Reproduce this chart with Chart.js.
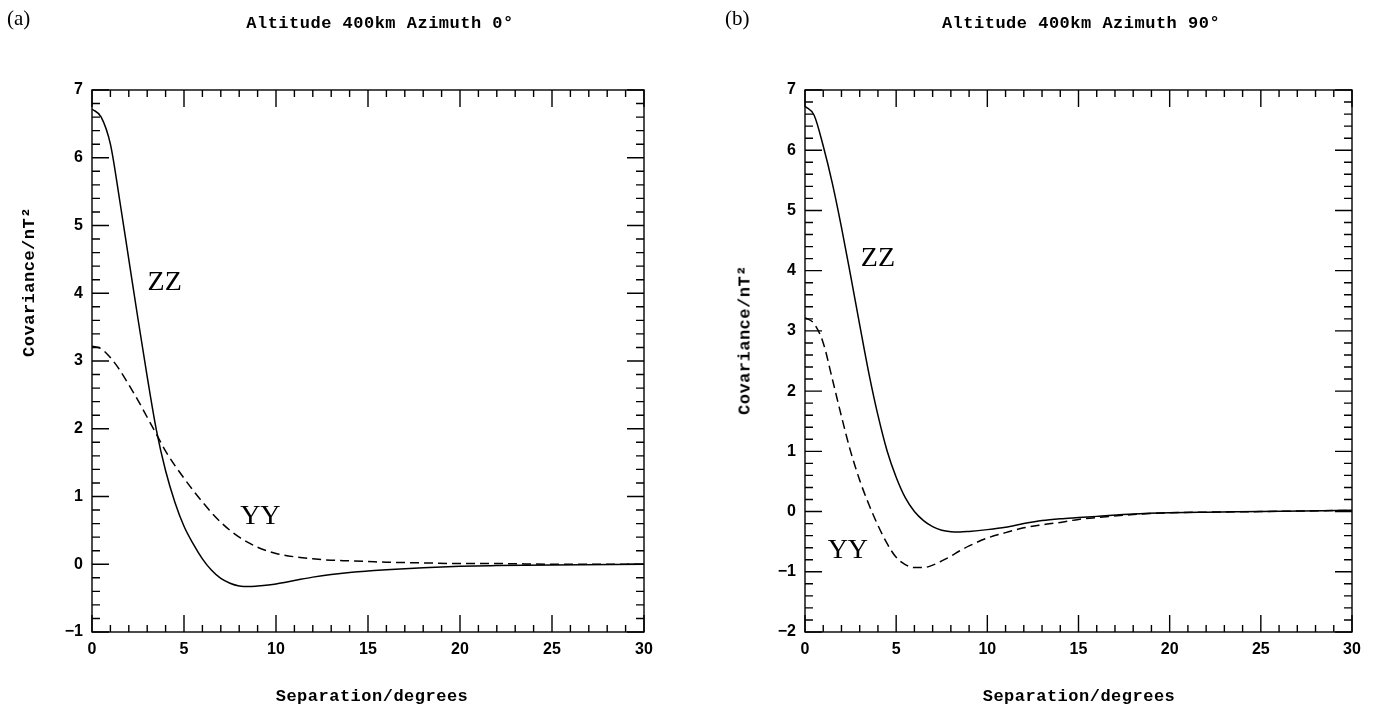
<!DOCTYPE html>
<html>
<head>
<meta charset="utf-8">
<script src="https://cdn.jsdelivr.net/npm/chart.js@4.4.0/dist/chart.umd.min.js"></script>
<style>
  html, body { margin: 0; padding: 0; background: #fff; }
  body { width: 1373px; height: 711px; position: relative; overflow: hidden; }
  canvas { position: absolute; top: 0; }
  .tag { position: absolute; font-family: "Liberation Serif", serif; font-size: 21px; color: #000; }
  .ttl { position: absolute; font-family: "Liberation Mono", monospace; font-weight: bold; font-size: 17px;
         letter-spacing: 0.5px; white-space: nowrap; transform: translate(-50%, -50%); color: #000; }
  .ytl { transform: translate(-50%, -50%) rotate(-90deg); }
</style>
</head>
<body>
<canvas id="chartA" width="686" height="711" style="left:0"></canvas>
<canvas id="chartB" width="687" height="711" style="left:686px"></canvas>

<div class="tag" style="left:7px;top:6px">(a)</div>
<div class="tag" style="left:725px;top:6px">(b)</div>
<div class="ttl" style="left:380px;top:23px">Altitude 400km Azimuth 0°</div>
<div class="ttl" style="left:1081px;top:23px">Altitude 400km Azimuth 90°</div>
<div class="ttl ytl" style="left:29px;top:282px">Covariance/nT²</div>
<div class="ttl ytl" style="left:745px;top:340px">Covariance/nT²</div>
<div class="ttl" style="left:372px;top:696px">Separation/degrees</div>
<div class="ttl" style="left:1079px;top:696px">Separation/degrees</div>

<script>
// ── DATA ─────────────────────────────────────────
// separation (degrees) where the curves were read off
const sepDeg = [0, 0.5, 1, 1.5, 2, 2.5, 3, 3.5, 4, 4.5, 5, 5.5, 6, 6.5, 7, 7.5, 8, 8.5, 9, 10, 11, 12, 13, 14, 15, 16, 18, 20, 22, 25, 30];

// (a) azimuth 0°
const zzAz0 = [6.72, 6.6, 6.2, 5.38, 4.5, 3.62, 2.77, 1.98, 1.38, 0.92, 0.56, 0.3, 0.08, -0.09, -0.21, -0.28, -0.32, -0.33, -0.32, -0.29, -0.24, -0.19, -0.15, -0.12, -0.1, -0.08, -0.05, -0.03, -0.02, -0.01, 0];
const yyAz0 = [3.22, 3.18, 3.05, 2.87, 2.65, 2.42, 2.17, 1.92, 1.67, 1.46, 1.27, 1.09, 0.92, 0.76, 0.62, 0.5, 0.4, 0.32, 0.25, 0.16, 0.11, 0.08, 0.06, 0.05, 0.04, 0.03, 0.02, 0.01, 0.01, 0, 0];

// (b) azimuth 90°
const zzAz90 = [6.73, 6.58, 6.07, 5.45, 4.72, 3.92, 3.1, 2.3, 1.6, 1.01, 0.57, 0.23, 0.0, -0.15, -0.25, -0.31, -0.335, -0.34, -0.33, -0.3, -0.26, -0.2, -0.15, -0.12, -0.1, -0.08, -0.04, -0.02, -0.01, 0, 0.02];
const yyAz90 = [3.22, 3.12, 2.8, 2.2, 1.58, 1.0, 0.52, 0.12, -0.23, -0.53, -0.76, -0.88, -0.93, -0.93, -0.89, -0.82, -0.74, -0.65, -0.57, -0.44, -0.35, -0.27, -0.22, -0.18, -0.13, -0.1, -0.05, -0.02, -0.01, 0, 0.02];

const xMin = 0, xMax = 30;
const yRangeA = [-1, 7];
const yRangeB = [-2, 7];

// curve labels, in data units
const labelsA = [{ text: 'ZZ', x: 3.95, y: 4.15 }, { text: 'YY', x: 9.15, y: 0.7 }];
const labelsB = [{ text: 'ZZ', x: 4.0, y: 4.2 }, { text: 'YY', x: 2.35, y: -0.65 }];

// ── inward ticks on all four sides + frame + curve labels ──
const frameTicks = {
  id: 'frameTicks',
  afterDatasetsDraw(chart, args, opts) {
    const { ctx, chartArea: a, scales: { x, y } } = chart;
    ctx.save();
    ctx.strokeStyle = '#000';
    ctx.lineWidth = 1.4;
    ctx.strokeRect(a.left, a.top, a.right - a.left, a.bottom - a.top);
    ctx.beginPath();
    for (let v = x.min; v <= x.max; v++) {
      const px = x.getPixelForValue(v);
      const len = v % 5 === 0 ? 17 : 7;
      ctx.moveTo(px, a.bottom); ctx.lineTo(px, a.bottom - len);
      ctx.moveTo(px, a.top); ctx.lineTo(px, a.top + len);
    }
    const n = Math.round((y.max - y.min) * 5);
    for (let i = 0; i <= n; i++) {
      const py = y.getPixelForValue(y.min + i * 0.2);
      const len = i % 5 === 0 ? 17 : 8;
      ctx.moveTo(a.left, py); ctx.lineTo(a.left + len, py);
      ctx.moveTo(a.right, py); ctx.lineTo(a.right - len, py);
    }
    ctx.stroke();
    ctx.fillStyle = '#000';
    ctx.font = '28px "Liberation Serif", serif';
    ctx.textAlign = 'center';
    ctx.textBaseline = 'middle';
    (opts.labels || []).forEach(l => ctx.fillText(l.text, x.getPixelForValue(l.x), y.getPixelForValue(l.y)));
    ctx.restore();
  }
};

function pts(vals) { return sepDeg.map((s, i) => ({ x: s, y: vals[i] })); }

function makeChart(id, zz, yy, yRange, yAxisW, padRight, labels) {
  return new Chart(document.getElementById(id), {
    type: 'line',
    data: {
      datasets: [
        { label: 'ZZ', data: pts(zz), borderColor: '#000', borderWidth: 1.5, pointRadius: 0, cubicInterpolationMode: 'monotone' },
        { label: 'YY', data: pts(yy), borderColor: '#000', borderWidth: 1.5, borderDash: [9, 5], pointRadius: 0, cubicInterpolationMode: 'monotone' }
      ]
    },
    options: {
      responsive: false, animation: false,
      layout: { padding: { left: 0, right: padRight, top: 90, bottom: 0 } },
      plugins: { legend: { display: false }, tooltip: { enabled: false }, frameTicks: { labels } },
      scales: {
        x: {
          type: 'linear', min: xMin, max: xMax,
          grid: { display: false, drawTicks: false }, border: { display: false },
          ticks: { stepSize: 5, padding: 8, color: '#000', maxRotation: 0, font: { family: '"Liberation Sans", sans-serif', weight: 'bold', size: 16 } },
          afterFit: s => { s.height = 79; }
        },
        y: {
          type: 'linear', min: yRange[0], max: yRange[1],
          grid: { display: false, drawTicks: false }, border: { display: false },
          ticks: { stepSize: 1, padding: 9, color: '#000', font: { family: '"Liberation Sans", sans-serif', weight: 'bold', size: 16 },
                   callback: v => v < 0 ? '\u2212' + Math.abs(v) : String(v) },
          afterFit: s => { s.width = yAxisW; }
        }
      }
    },
    plugins: [frameTicks]
  });
}

makeChart('chartA', zzAz0, yyAz0, yRangeA, 92, 42, labelsA);
makeChart('chartB', zzAz90, yyAz90, yRangeB, 119, 21, labelsB);
</script>
</body>
</html>
